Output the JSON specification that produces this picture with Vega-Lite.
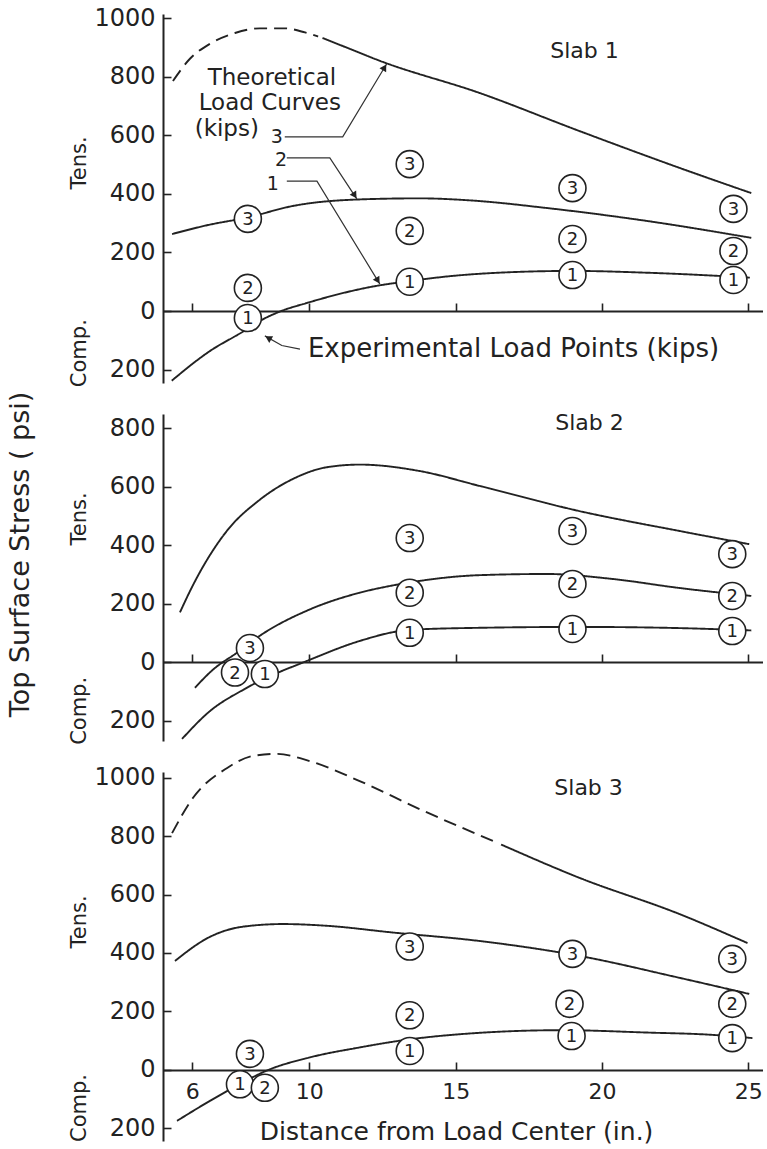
{
  "$schema": "https://vega.github.io/schema/vega-lite/v6.json",
  "padding": {"left": 6, "top": 6, "right": 0, "bottom": 0},
  "spacing": 31,
  "bounds": "flush",
  "config": {
    "view": {"stroke": null},
    "font": "DejaVu Sans",
    "axis": {"grid": false, "domainColor": "#222", "domainWidth": 2, "tickColor": "#222", "tickWidth": 1.6, "labelColor": "#222", "titleColor": "#222", "labelFont": "DejaVu Sans", "titleFont": "DejaVu Sans", "titleFontWeight": "normal"}
  },
  "datasets": {
    "curves": [
      {"s":1,"k":3,"seg":"dashed","x":5.34,"y":786},{"s":1,"k":3,"seg":"dashed","x":5.92,"y":862},{"s":1,"k":3,"seg":"dashed","x":6.6,"y":913},{"s":1,"k":3,"seg":"dashed","x":7.46,"y":950},{"s":1,"k":3,"seg":"dashed","x":8.31,"y":966},{"s":1,"k":3,"seg":"dashed","x":9.16,"y":966},{"s":1,"k":3,"seg":"dashed","x":9.85,"y":952},{"s":1,"k":3,"seg":"dashed","x":10.3,"y":938},
      {"s":1,"k":3,"seg":"solid","x":10.45,"y":933},{"s":1,"k":3,"seg":"solid","x":11.38,"y":896},{"s":1,"k":3,"seg":"solid","x":12.41,"y":855},{"s":1,"k":3,"seg":"solid","x":15.82,"y":745},{"s":1,"k":3,"seg":"solid","x":19.23,"y":615},{"s":1,"k":3,"seg":"solid","x":22.65,"y":489},{"s":1,"k":3,"seg":"solid","x":25.1,"y":403},
      {"s":1,"k":2,"seg":"solid","x":5.31,"y":263},{"s":1,"k":2,"seg":"solid","x":6.5,"y":293},{"s":1,"k":2,"seg":"solid","x":7.9,"y":320},{"s":1,"k":2,"seg":"solid","x":9.44,"y":359},{"s":1,"k":2,"seg":"solid","x":11.62,"y":381},{"s":1,"k":2,"seg":"solid","x":13.77,"y":385},{"s":1,"k":2,"seg":"solid","x":15.5,"y":378},{"s":1,"k":2,"seg":"solid","x":18.11,"y":352},{"s":1,"k":2,"seg":"solid","x":21.52,"y":308},{"s":1,"k":2,"seg":"solid","x":25.1,"y":250},
      {"s":1,"k":1,"seg":"solid","x":5.3,"y":-238},{"s":1,"k":1,"seg":"solid","x":6.6,"y":-137},{"s":1,"k":1,"seg":"solid","x":7.74,"y":-70},{"s":1,"k":1,"seg":"solid","x":8.31,"y":-34},{"s":1,"k":1,"seg":"solid","x":8.99,"y":-2},{"s":1,"k":1,"seg":"solid","x":9.9,"y":27},{"s":1,"k":1,"seg":"solid","x":12.3,"y":86},{"s":1,"k":1,"seg":"solid","x":13.4,"y":102},{"s":1,"k":1,"seg":"solid","x":14.7,"y":118},{"s":1,"k":1,"seg":"solid","x":16.95,"y":133},{"s":1,"k":1,"seg":"solid","x":19.0,"y":137},{"s":1,"k":1,"seg":"solid","x":21.5,"y":131},{"s":1,"k":1,"seg":"solid","x":23.8,"y":121},{"s":1,"k":1,"seg":"solid","x":25.05,"y":114},
      {"s":2,"k":3,"seg":"solid","x":5.58,"y":170},{"s":2,"k":3,"seg":"solid","x":6.02,"y":262},{"s":2,"k":3,"seg":"solid","x":7.18,"y":448},{"s":2,"k":3,"seg":"solid","x":8.31,"y":555},{"s":2,"k":3,"seg":"solid","x":9.44,"y":626},{"s":2,"k":3,"seg":"solid","x":10.6,"y":666},{"s":2,"k":3,"seg":"solid","x":11.72,"y":675},{"s":2,"k":3,"seg":"solid","x":13.77,"y":653},{"s":2,"k":3,"seg":"solid","x":15.82,"y":602},{"s":2,"k":3,"seg":"solid","x":19.23,"y":516},{"s":2,"k":3,"seg":"solid","x":22.65,"y":448},{"s":2,"k":3,"seg":"solid","x":25.03,"y":403},
      {"s":2,"k":2,"seg":"solid","x":6.09,"y":-88},{"s":2,"k":2,"seg":"solid","x":6.72,"y":-25},{"s":2,"k":2,"seg":"solid","x":7.5,"y":30},{"s":2,"k":2,"seg":"solid","x":8.31,"y":90},{"s":2,"k":2,"seg":"solid","x":10.02,"y":180},{"s":2,"k":2,"seg":"solid","x":11.72,"y":237},{"s":2,"k":2,"seg":"solid","x":12.86,"y":262},{"s":2,"k":2,"seg":"solid","x":13.43,"y":272},{"s":2,"k":2,"seg":"solid","x":15.82,"y":297},{"s":2,"k":2,"seg":"solid","x":18.11,"y":301},{"s":2,"k":2,"seg":"solid","x":20.36,"y":284},{"s":2,"k":2,"seg":"solid","x":22.65,"y":253},{"s":2,"k":2,"seg":"solid","x":25.1,"y":226},
      {"s":2,"k":1,"seg":"solid","x":5.65,"y":-263},{"s":2,"k":1,"seg":"solid","x":6.6,"y":-168},{"s":2,"k":1,"seg":"solid","x":7.74,"y":-95},{"s":2,"k":1,"seg":"solid","x":8.2,"y":-70},{"s":2,"k":1,"seg":"solid","x":9.9,"y":3},{"s":2,"k":1,"seg":"solid","x":11.72,"y":72},{"s":2,"k":1,"seg":"solid","x":13.09,"y":106},{"s":2,"k":1,"seg":"solid","x":13.43,"y":110},{"s":2,"k":1,"seg":"solid","x":15.82,"y":117},{"s":2,"k":1,"seg":"solid","x":19.23,"y":120},{"s":2,"k":1,"seg":"solid","x":22.65,"y":116},{"s":2,"k":1,"seg":"solid","x":25.1,"y":108},
      {"s":3,"k":3,"seg":"dashed","x":5.31,"y":810},{"s":3,"k":3,"seg":"dashed","x":6.02,"y":930},{"s":3,"k":3,"seg":"dashed","x":7.18,"y":1032},{"s":3,"k":3,"seg":"dashed","x":8.07,"y":1074},{"s":3,"k":3,"seg":"dashed","x":8.89,"y":1081},{"s":3,"k":3,"seg":"dashed","x":10.02,"y":1056},{"s":3,"k":3,"seg":"dashed","x":11.72,"y":988},{"s":3,"k":3,"seg":"dashed","x":13.77,"y":892},{"s":3,"k":3,"seg":"dashed","x":16.4,"y":778},
      {"s":3,"k":3,"seg":"solid","x":16.55,"y":771},{"s":3,"k":3,"seg":"solid","x":19.23,"y":657},{"s":3,"k":3,"seg":"solid","x":22.65,"y":533},{"s":3,"k":3,"seg":"solid","x":24.97,"y":434},
      {"s":3,"k":2,"seg":"solid","x":5.41,"y":373},{"s":3,"k":2,"seg":"solid","x":6.6,"y":455},{"s":3,"k":2,"seg":"solid","x":7.73,"y":490},{"s":3,"k":2,"seg":"solid","x":9.1,"y":499},{"s":3,"k":2,"seg":"solid","x":10.6,"y":493},{"s":3,"k":2,"seg":"solid","x":12.85,"y":470},{"s":3,"k":2,"seg":"solid","x":15.82,"y":441},{"s":3,"k":2,"seg":"solid","x":19.23,"y":390},{"s":3,"k":2,"seg":"solid","x":22.65,"y":315},{"s":3,"k":2,"seg":"solid","x":25.03,"y":260},
      {"s":3,"k":1,"seg":"solid","x":5.48,"y":-174},{"s":3,"k":1,"seg":"solid","x":6.6,"y":-106},{"s":3,"k":1,"seg":"solid","x":7.63,"y":-48},{"s":3,"k":1,"seg":"solid","x":8.55,"y":-2},{"s":3,"k":1,"seg":"solid","x":10.02,"y":43},{"s":3,"k":1,"seg":"solid","x":11.72,"y":77},{"s":3,"k":1,"seg":"solid","x":13.09,"y":100},{"s":3,"k":1,"seg":"solid","x":15.82,"y":127},{"s":3,"k":1,"seg":"solid","x":18.65,"y":136},{"s":3,"k":1,"seg":"solid","x":21.52,"y":128},{"s":3,"k":1,"seg":"solid","x":23.77,"y":120},{"s":3,"k":1,"seg":"solid","x":25.14,"y":109}
    ],
    "points": [
      {"s":1,"k":1,"x":7.9,"y":-24},{"s":1,"k":2,"x":7.9,"y":79},{"s":1,"k":3,"x":7.9,"y":315},
      {"s":1,"k":1,"x":13.43,"y":100},{"s":1,"k":2,"x":13.43,"y":274},{"s":1,"k":3,"x":13.43,"y":502},
      {"s":1,"k":1,"x":18.99,"y":123},{"s":1,"k":2,"x":18.99,"y":246},{"s":1,"k":3,"x":18.99,"y":420},
      {"s":1,"k":1,"x":24.49,"y":106},{"s":1,"k":2,"x":24.49,"y":205},{"s":1,"k":3,"x":24.49,"y":349},
      {"s":2,"k":3,"x":7.97,"y":48},{"s":2,"k":2,"x":7.46,"y":-36},{"s":2,"k":1,"x":8.48,"y":-41},
      {"s":2,"k":1,"x":13.43,"y":100},{"s":2,"k":2,"x":13.43,"y":237},{"s":2,"k":3,"x":13.43,"y":424},
      {"s":2,"k":1,"x":18.99,"y":113},{"s":2,"k":2,"x":18.99,"y":267},{"s":2,"k":3,"x":18.99,"y":448},
      {"s":2,"k":1,"x":24.45,"y":106},{"s":2,"k":2,"x":24.45,"y":226},{"s":2,"k":3,"x":24.45,"y":369},
      {"s":3,"k":3,"x":7.97,"y":55},{"s":3,"k":1,"x":7.63,"y":-49},{"s":3,"k":2,"x":8.48,"y":-61},
      {"s":3,"k":1,"x":13.43,"y":65},{"s":3,"k":2,"x":13.43,"y":187},{"s":3,"k":3,"x":13.43,"y":422},
      {"s":3,"k":1,"x":18.96,"y":116},{"s":3,"k":2,"x":18.89,"y":226},{"s":3,"k":3,"x":18.99,"y":397},
      {"s":3,"k":1,"x":24.45,"y":109},{"s":3,"k":2,"x":24.45,"y":226},{"s":3,"k":3,"x":24.45,"y":380}
    ],
    "slabs": [
      {"s":1,"label":"Slab 1","x":19.4,"y":889},
      {"s":2,"label":"Slab 2","x":19.57,"y":817},
      {"s":3,"label":"Slab 3","x":19.54,"y":964}
    ],
    "sides": [
      {"s":1,"label":"Tens.","x":2.17,"y":506},{"s":1,"label":"Comp.","x":2.17,"y":-144},
      {"s":2,"label":"Tens.","x":2.17,"y":489},{"s":2,"label":"Comp.","x":2.17,"y":-167},
      {"s":3,"label":"Tens.","x":2.17,"y":506},{"s":3,"label":"Comp.","x":2.17,"y":-130}
    ],
    "notes": [
      {"kind":"title","label":"Theoretical","x":8.72,"y":797},
      {"kind":"title","label":"Load Curves","x":8.65,"y":711},
      {"kind":"title","label":"(kips)","x":7.18,"y":622},
      {"kind":"num","label":"3","x":8.89,"y":596},
      {"kind":"num","label":"2","x":9.03,"y":516},
      {"kind":"num","label":"1","x":8.75,"y":434},
      {"kind":"exp","label":"Experimental Load Points (kips)","x":9.95,"y":-130}
    ],
    "leaders": [
      {"id":"l3","ord":1,"x":9.16,"y":595},{"id":"l3","ord":2,"x":11.14,"y":595},{"id":"l3","ord":3,"x":12.64,"y":844},
      {"id":"l2","ord":1,"x":9.23,"y":523},{"id":"l2","ord":2,"x":10.7,"y":523},{"id":"l2","ord":3,"x":11.62,"y":383},
      {"id":"l1","ord":1,"x":9.23,"y":444},{"id":"l1","ord":2,"x":10.26,"y":444},{"id":"l1","ord":3,"x":12.41,"y":92},
      {"id":"le","ord":1,"x":8.48,"y":-85},{"id":"le","ord":2,"x":9.06,"y":-118},{"id":"le","ord":3,"x":9.68,"y":-130}
    ],
    "heads": [
      {"id":"l3","x":12.55,"y":829},
      {"id":"l2","x":11.53,"y":398},
      {"id":"l1","x":12.32,"y":107},
      {"id":"le","x":8.63,"y":-94}
    ]
  },
  "vconcat": [
    {
      "width": 600, "height": 369,
      "encoding": {
        "x": {"field":"x","type":"quantitative","scale":{"domain":[5,25.5],"nice":false,"zero":false},
              "axis":{"values":[6,10,15,20,25],"offset":-72,"tickSize":-8,"labels":false,"title":null}},
        "y": {"field":"y","type":"quantitative","scale":{"domain":[-246,1015],"nice":false,"zero":false},
              "axis":{"values":[-200,0,200,400,600,800,1000],"labelExpr":"format(abs(datum.value), 'd')","labelFontSize":24,"labelPadding":16,"tickSize":-8,"title":null}}
      },
      "layer": [
        {"data":{"name":"curves"},"transform":[{"filter":"datum.s == 1"}],
         "mark":{"type":"line","color":"#222","strokeWidth":1.9,"interpolate":"monotone"},
         "encoding":{"detail":{"field":"k"},"strokeDash":{"field":"seg","type":"nominal","scale":{"domain":["solid","dashed"],"range":[[1,0],[13,7]]},"legend":null}}},
        {"data":{"name":"leaders"},
         "mark":{"type":"line","color":"#333","strokeWidth":1.2},
         "encoding":{"detail":{"field":"id"},"order":{"field":"ord"}}},
        {"data":{"name":"heads"},"transform":[{"filter":"datum.id == 'l3'"}],
         "mark":{"type":"point","shape":"triangle","filled":true,"color":"#222","size":60,"angle":31,"opacity":1}},
        {"data":{"name":"heads"},"transform":[{"filter":"datum.id == 'l2'"}],
         "mark":{"type":"point","shape":"triangle","filled":true,"color":"#222","size":60,"angle":147,"opacity":1}},
        {"data":{"name":"heads"},"transform":[{"filter":"datum.id == 'l1'"}],
         "mark":{"type":"point","shape":"triangle","filled":true,"color":"#222","size":60,"angle":148,"opacity":1}},
        {"data":{"name":"heads"},"transform":[{"filter":"datum.id == 'le'"}],
         "mark":{"type":"point","shape":"triangle","filled":true,"color":"#222","size":60,"angle":300,"opacity":1}},
        {"data":{"name":"points"},"transform":[{"filter":"datum.s == 1"}],
         "mark":{"type":"point","shape":"circle","filled":true,"fill":"white","stroke":"#222","strokeWidth":1.6,"size":729,"opacity":1}},
        {"data":{"name":"points"},"transform":[{"filter":"datum.s == 1"}],
         "mark":{"type":"text","fontSize":18,"color":"#222","align":"center","baseline":"middle","dy":1},
         "encoding":{"text":{"field":"k"}}},
        {"data":{"name":"slabs"},"transform":[{"filter":"datum.s == 1"}],
         "mark":{"type":"text","fontSize":22,"color":"#222","align":"center","baseline":"middle"},
         "encoding":{"text":{"field":"label"}}},
        {"data":{"name":"sides"},"transform":[{"filter":"datum.s == 1"}],
         "mark":{"type":"text","fontSize":21,"color":"#222","align":"center","baseline":"middle","angle":270},
         "encoding":{"text":{"field":"label"}}},
        {"data":{"name":"notes"},"transform":[{"filter":"datum.kind == 'title'"}],
         "mark":{"type":"text","fontSize":23,"color":"#222","align":"center","baseline":"middle"},
         "encoding":{"text":{"field":"label"}}},
        {"data":{"name":"notes"},"transform":[{"filter":"datum.kind == 'num'"}],
         "mark":{"type":"text","fontSize":19,"color":"#222","align":"center","baseline":"middle"},
         "encoding":{"text":{"field":"label"}}},
        {"data":{"name":"notes"},"transform":[{"filter":"datum.kind == 'exp'"}],
         "mark":{"type":"text","fontSize":26,"color":"#222","align":"left","baseline":"middle"},
         "encoding":{"text":{"field":"label"}}}
      ]
    },
    {
      "width": 600, "height": 327,
      "encoding": {
        "x": {"field":"x","type":"quantitative","scale":{"domain":[5,25.5],"nice":false,"zero":false},
              "axis":{"values":[6,10,15,20,25],"offset":-79,"tickSize":-8,"labels":false,"title":null}},
        "y": {"field":"y","type":"quantitative","scale":{"domain":[-270,848],"nice":false,"zero":false},
              "axis":{"values":[-200,0,200,400,600,800],"labelExpr":"format(abs(datum.value), 'd')","labelFontSize":24,"labelPadding":16,"tickSize":-8,
                      "title":"Top Surface Stress ( psi)","titleFontSize":27,"titleX":-143,"titleY":140,"titleAngle":270,"titleAlign":"center","titleBaseline":"middle"}}
      },
      "layer": [
        {"data":{"name":"curves"},"transform":[{"filter":"datum.s == 2"}],
         "mark":{"type":"line","color":"#222","strokeWidth":1.9,"interpolate":"monotone"},
         "encoding":{"detail":{"field":"k"},"strokeDash":{"field":"seg","type":"nominal","scale":{"domain":["solid","dashed"],"range":[[1,0],[13,7]]},"legend":null}}},
        {"data":{"name":"points"},"transform":[{"filter":"datum.s == 2"}],
         "mark":{"type":"point","shape":"circle","filled":true,"fill":"white","stroke":"#222","strokeWidth":1.6,"size":729,"opacity":1}},
        {"data":{"name":"points"},"transform":[{"filter":"datum.s == 2"}],
         "mark":{"type":"text","fontSize":18,"color":"#222","align":"center","baseline":"middle","dy":1},
         "encoding":{"text":{"field":"k"}}},
        {"data":{"name":"slabs"},"transform":[{"filter":"datum.s == 2"}],
         "mark":{"type":"text","fontSize":22,"color":"#222","align":"center","baseline":"middle"},
         "encoding":{"text":{"field":"label"}}},
        {"data":{"name":"sides"},"transform":[{"filter":"datum.s == 2"}],
         "mark":{"type":"text","fontSize":21,"color":"#222","align":"center","baseline":"middle","angle":270},
         "encoding":{"text":{"field":"label"}}}
      ]
    },
    {
      "width": 600, "height": 369,
      "encoding": {
        "x": {"field":"x","type":"quantitative","scale":{"domain":[5,25.5],"nice":false,"zero":false},
              "axis":{"values":[6,10,15,20,25],"offset":-71,"tickSize":-8,"labels":true,"labelFontSize":22,"labelPadding":19,
                      "title":"Distance from Load Center (in.)","titleFontSize":25,"titleX":293,"titleY":69,"titleAlign":"center","titleBaseline":"alphabetic"}},
        "y": {"field":"y","type":"quantitative","scale":{"domain":[-243,1019],"nice":false,"zero":false},
              "axis":{"values":[-200,0,200,400,600,800,1000],"labelExpr":"format(abs(datum.value), 'd')","labelFontSize":24,"labelPadding":16,"tickSize":-8,"title":null}}
      },
      "layer": [
        {"data":{"name":"curves"},"transform":[{"filter":"datum.s == 3"}],
         "mark":{"type":"line","color":"#222","strokeWidth":1.9,"interpolate":"monotone"},
         "encoding":{"detail":{"field":"k"},"strokeDash":{"field":"seg","type":"nominal","scale":{"domain":["solid","dashed"],"range":[[1,0],[13,7]]},"legend":null}}},
        {"data":{"name":"points"},"transform":[{"filter":"datum.s == 3"}],
         "mark":{"type":"point","shape":"circle","filled":true,"fill":"white","stroke":"#222","strokeWidth":1.6,"size":729,"opacity":1}},
        {"data":{"name":"points"},"transform":[{"filter":"datum.s == 3"}],
         "mark":{"type":"text","fontSize":18,"color":"#222","align":"center","baseline":"middle","dy":1},
         "encoding":{"text":{"field":"k"}}},
        {"data":{"name":"slabs"},"transform":[{"filter":"datum.s == 3"}],
         "mark":{"type":"text","fontSize":22,"color":"#222","align":"center","baseline":"middle"},
         "encoding":{"text":{"field":"label"}}},
        {"data":{"name":"sides"},"transform":[{"filter":"datum.s == 3"}],
         "mark":{"type":"text","fontSize":21,"color":"#222","align":"center","baseline":"middle","angle":270},
         "encoding":{"text":{"field":"label"}}}
      ]
    }
  ]
}
